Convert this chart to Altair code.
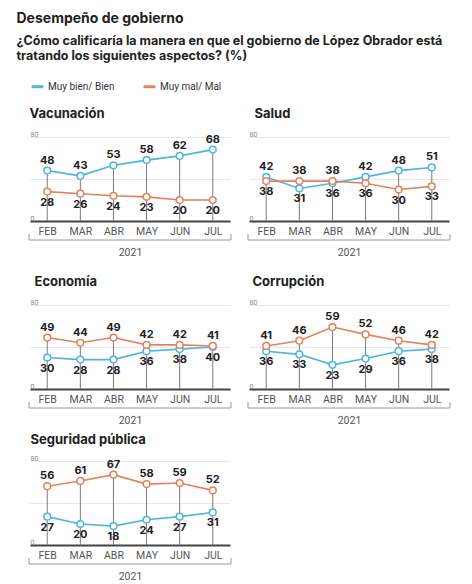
import altair as alt
import pandas as pd

months = ["FEB", "MAR", "ABR", "MAY", "JUN", "JUL"]
series_names = ["Muy bien/ Bien", "Muy mal/ Mal"]
colors = ["#4db6da", "#e5805f"]

panels = ["Vacunación", "Salud", "Economía", "Corrupción", "Seguridad pública"]
bien = {
    "Vacunación": [48, 43, 53, 58, 62, 68],
    "Salud": [42, 31, 36, 42, 48, 51],
    "Economía": [30, 28, 28, 36, 38, 40],
    "Corrupción": [36, 33, 23, 29, 36, 38],
    "Seguridad pública": [27, 20, 18, 24, 27, 31],
}
mal = {
    "Vacunación": [28, 26, 24, 23, 20, 20],
    "Salud": [38, 38, 38, 36, 30, 33],
    "Economía": [49, 44, 49, 42, 42, 41],
    "Corrupción": [41, 46, 59, 52, 46, 42],
    "Seguridad pública": [56, 61, 67, 58, 59, 52],
}

rows = []
for p in panels:
    for i, m in enumerate(months):
        b, mm = bien[p][i], mal[p][i]
        rows.append({"panel": p, "month": m, "series": series_names[0], "value": b,
                     "pos": "above" if b > mm else "below"})
        rows.append({"panel": p, "month": m, "series": series_names[1], "value": mm,
                     "pos": "above" if mm >= b else "below"})
df = pd.DataFrame(rows)

W, H = 200, 84
FONT = "Inter"
AXFONT = "Roboto"

cscale = alt.Scale(domain=series_names, range=colors)
leg = alt.Legend(title=None, symbolType="stroke", orient="none", direction="horizontal",
                 legendX=0, legendY=-58, labelFontSize=10, labelFont=AXFONT, labelColor="#333",
                 symbolStrokeWidth=3, symbolSize=140, columnPadding=22, labelOffset=3)

xax = alt.Axis(title="2021", labelAngle=0, ticks=False, domainColor="#444", domainWidth=2,
               labelFont=AXFONT, labelFontSize=10.5, labelColor="#555", labelPadding=5,
               titleFont=AXFONT, titleFontSize=10.5, titleFontWeight="normal", titleColor="#555",
               titlePadding=11, grid=False)
yax = alt.Axis(title=None, values=[0, 40, 80], labelExpr="datum.value == 40 ? '' : datum.label",
               domain=False, ticks=False, labelAlign="left", labelBaseline="bottom",
               labelPadding=0, labelFontSize=7, labelColor="#888", labelFont=AXFONT,
               grid=True, gridColor="#e8e8e8", gridWidth=1, minExtent=0, maxExtent=0)
xs = alt.Scale(type="point", padding=0.52)
ys = alt.Scale(domain=[0, 80])


def panel(name, tdx, toff=9):
    base = alt.Chart(df).transform_filter(alt.datum.panel == name)
    X = alt.X("month:N", sort=months, scale=xs, axis=xax)
    rules = base.transform_aggregate(vmax="max(value)", groupby=["month"]).mark_rule(
        color="#7a7a7a", strokeWidth=1).encode(
        x=X, y=alt.Y("vmax:Q", scale=ys, axis=yax), y2=alt.datum(0))
    line = base.mark_line(strokeWidth=1.6).encode(
        x=X, y=alt.Y("value:Q", scale=ys, axis=yax),
        color=alt.Color("series:N", scale=cscale, legend=leg))
    pts = base.mark_point(filled=False, fill="white", fillOpacity=1, opacity=1, size=45,
                          strokeWidth=1.5).encode(
        x=X, y=alt.Y("value:Q", scale=ys, axis=yax),
        color=alt.Color("series:N", scale=cscale, legend=leg))
    ta = base.transform_filter(alt.datum.pos == "above").mark_text(
        dy=-10, fontSize=11, fontWeight="bold", color="#222", font=FONT).encode(
        x=X, y=alt.Y("value:Q", scale=ys, axis=yax), text="value:Q")
    tb = base.transform_filter(alt.datum.pos == "below").mark_text(
        dy=11, fontSize=11, fontWeight="bold", color="#222", font=FONT).encode(
        x=X, y=alt.Y("value:Q", scale=ys, axis=yax), text="value:Q")
    one = alt.Chart(pd.DataFrame({"a": [0]}))
    br_h = one.mark_rule(color="#999", strokeWidth=1).encode(
        x=alt.value(-1), x2=alt.value(W + 1), y=alt.value(H + 19))
    br_l = one.mark_rule(color="#999", strokeWidth=1).encode(
        x=alt.value(-1), y=alt.value(H + 13), y2=alt.value(H + 19))
    br_r = one.mark_rule(color="#999", strokeWidth=1).encode(
        x=alt.value(W + 1), y=alt.value(H + 13), y2=alt.value(H + 19))
    return alt.layer(rules, line, pts, ta, tb, br_h, br_l, br_r).properties(
        width=W, height=H,
        title=alt.TitleParams(name, anchor="start", fontSize=13, font=FONT, fontWeight="bold",
                              color="#222", offset=toff, dx=tdx))


row1 = alt.hconcat(panel("Vacunación", 1), panel("Salud", 7), spacing=15)
row2 = alt.hconcat(panel("Economía", 6), panel("Corrupción", 5), spacing=15)
row3 = alt.hconcat(panel("Seguridad pública", 2, 7), spacing=15)

chart = alt.vconcat(alt.vconcat(row1, row2, spacing=18), row3, spacing=8).properties(
    title=alt.TitleParams("Desempeño de gobierno",
                          subtitle=["¿Cómo calificaría la manera en que el gobierno de López Obrador está",
                                    "tratando los siguientes aspectos? (%)"],
                          anchor="start", dx=-12, fontSize=14, font=FONT, fontWeight="bold",
                          color="#222", subtitleFont=FONT, subtitleFontSize=12.5,
                          subtitleFontWeight="bold", subtitleColor="#222",
                          subtitleLineHeight=15, subtitlePadding=9, offset=17),
    padding={"left": 8, "top": 3, "right": 5, "bottom": 2},
).configure_view(stroke=None)

chart.save("out.html", embed_options={"renderer": "svg", "actions": False})
